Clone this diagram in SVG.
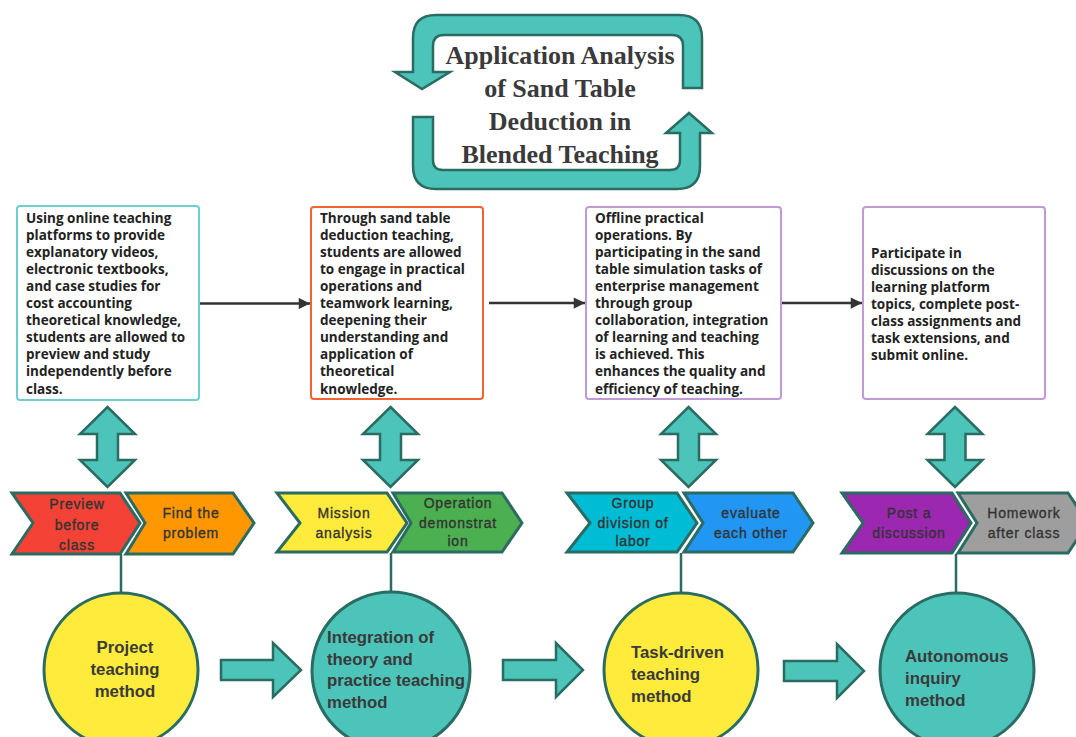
<svg xmlns="http://www.w3.org/2000/svg" width="1076" height="737" viewBox="0 0 1076 737">
<defs>
<style>
.title{font-family:"Liberation Serif","Times New Roman",serif;font-weight:bold;font-size:26px;fill:#3a3a3a;text-anchor:middle}
.box{fill:#fff;stroke-width:2}
.bt{font-family:"Open Sans","Noto Sans",sans-serif;font-weight:bold;font-size:13.5px;fill:#222}
.teal{fill:#4dc4b9;stroke:#2a6b62;stroke-width:2.5;stroke-linejoin:miter}
.chev{stroke:#2a6b62;stroke-width:3;stroke-linejoin:miter}
.ct{font-family:"Liberation Sans",Arial,sans-serif;font-size:14px;letter-spacing:0.8px;fill:#333;stroke:#333;stroke-width:0.35;text-anchor:middle}
.circ{stroke:#2a6b62;stroke-width:3}
.mt{font-family:"Liberation Sans",Arial,sans-serif;font-weight:bold;font-size:16.8px;fill:#3a3a3a}
.link{stroke:#2a6b62;stroke-width:2.5;fill:none}
.conn{stroke:#333;stroke-width:2.5;fill:none}
</style>
<marker id="ah" viewBox="0 0 10 10" refX="10" refY="5" markerWidth="5.5" markerHeight="4.5" orient="auto" markerUnits="strokeWidth">
<path d="M0,0 L10,5 L0,10 z" fill="#333"/>
</marker>
</defs>

<g id="title">
<path class="teal" d="M702,88 L702,38 Q702,15 679,15 L436,15 Q413,15 413,38 L413,72 L395,72 L422,89 L450,72 L433,72 L433,46 Q433,35 444,35 L672,35 Q683,35 683,46 L683,88 Z"/>
<path class="teal" d="M413,117 L413,166 Q413,189 436,189 L677,189 Q700,189 700,166 L700,133 L712,133 L689,113 L666,133 L680,133 L680,160 Q680,170 670,170 L443,170 Q433,170 433,160 L433,117 Z"/>
<text class="title" x="560" y="64">Application Analysis</text>
<text class="title" x="560" y="97">of Sand Table</text>
<text class="title" x="560" y="130">Deduction in</text>
<text class="title" x="560" y="163">Blended Teaching</text>
</g>

<g id="connectors">
<line class="conn" x1="200" y1="303.5" x2="310" y2="303.5" marker-end="url(#ah)"/>
<line class="conn" x1="489" y1="303" x2="585" y2="303" marker-end="url(#ah)"/>
<line class="conn" x1="782" y1="303" x2="862" y2="303" marker-end="url(#ah)"/>
<line class="link" x1="121" y1="554" x2="121" y2="592"/>
<line class="link" x1="391" y1="553" x2="391" y2="592"/>
<line class="link" x1="681" y1="553" x2="681" y2="592"/>
<line class="link" x1="956" y1="554" x2="956" y2="592"/>
<path class="teal" d="M221,660 L273,660 L273,643 L301,670 L273,697 L273,680 L221,680 Z"/>
<path class="teal" d="M503,660 L556,660 L556,643 L583,670 L556,697 L556,680 L503,680 Z"/>
<path class="teal" d="M784,661 L837,661 L837,644 L864,671 L837,698 L837,681 L784,681 Z"/>
</g>

<g id="box1">
<rect class="box" x="17" y="206" width="182" height="194" rx="3" stroke="#6dcfd1"/>
<text class="bt">
<tspan x="26" y="222.5">Using online teaching</tspan>
<tspan x="26" y="239.6">platforms to provide</tspan>
<tspan x="26" y="256.7">explanatory videos,</tspan>
<tspan x="26" y="273.8">electronic textbooks,</tspan>
<tspan x="26" y="290.9">and case studies for</tspan>
<tspan x="26" y="308">cost accounting</tspan>
<tspan x="26" y="325.1">theoretical knowledge,</tspan>
<tspan x="26" y="342.2">students are allowed to</tspan>
<tspan x="26" y="359.3">preview and study</tspan>
<tspan x="26" y="376.4">independently before</tspan>
<tspan x="26" y="393.5">class.</tspan>
</text>
</g>

<g id="box2">
<rect class="box" x="311" y="207" width="172" height="192" rx="3" stroke="#f4622f"/>
<text class="bt">
<tspan x="320" y="222.5">Through sand table</tspan>
<tspan x="320" y="239.6">deduction teaching,</tspan>
<tspan x="320" y="256.7">students are allowed</tspan>
<tspan x="320" y="273.8">to engage in practical</tspan>
<tspan x="320" y="290.9">operations and</tspan>
<tspan x="320" y="308">teamwork learning,</tspan>
<tspan x="320" y="325.1">deepening their</tspan>
<tspan x="320" y="342.2">understanding and</tspan>
<tspan x="320" y="359.3">application of</tspan>
<tspan x="320" y="376.4">theoretical</tspan>
<tspan x="320" y="393.5">knowledge.</tspan>
</text>
</g>

<g id="box3">
<rect class="box" x="586" y="207" width="195" height="192" rx="3" stroke="#c09ad8"/>
<text class="bt">
<tspan x="595" y="222.5">Offline practical</tspan>
<tspan x="595" y="239.6">operations. By</tspan>
<tspan x="595" y="256.7">participating in the sand</tspan>
<tspan x="595" y="273.8">table simulation tasks of</tspan>
<tspan x="595" y="290.9">enterprise management</tspan>
<tspan x="595" y="308">through group</tspan>
<tspan x="595" y="325.1">collaboration, integration</tspan>
<tspan x="595" y="342.2">of learning and teaching</tspan>
<tspan x="595" y="359.3">is achieved. This</tspan>
<tspan x="595" y="376.4">enhances the quality and</tspan>
<tspan x="595" y="393.5">efficiency of teaching.</tspan>
</text>
</g>

<g id="box4">
<rect class="box" x="863" y="207" width="182" height="192" rx="3" stroke="#c09ad8"/>
<text class="bt">
<tspan x="871" y="257.5">Participate in</tspan>
<tspan x="871" y="274.6">discussions on the</tspan>
<tspan x="871" y="291.7">learning platform</tspan>
<tspan x="871" y="308.8">topics, complete post-</tspan>
<tspan x="871" y="325.9">class assignments and</tspan>
<tspan x="871" y="343">task extensions, and</tspan>
<tspan x="871" y="360.1">submit online.</tspan>
</text>
</g>

<g id="dbl1"><path class="teal" d="M107.5,407 L135,434 L118,434 L118,460 L135,460 L107.5,487 L80,460 L97,460 L97,434 L80,434 Z"/></g>
<g id="dbl2"><path class="teal" d="M390.5,407 L418,434 L401,434 L401,460 L418,460 L390.5,487 L363,460 L380,460 L380,434 L363,434 Z"/></g>
<g id="dbl3"><path class="teal" d="M688.5,407 L716,434 L699,434 L699,460 L716,460 L688.5,487 L661,460 L678,460 L678,434 L661,434 Z"/></g>
<g id="dbl4"><path class="teal" d="M955,407 L982.5,434 L965.5,434 L965.5,460 L982.5,460 L955,487 L927.5,460 L944.5,460 L944.5,434 L927.5,434 Z"/></g>

<g id="chev-preview">
<path class="chev" fill="#f44336" d="M12,493 L120,493 L140,523 L120,554 L12,554 L33,523 Z"/>
<text class="ct"><tspan x="77" y="509">Preview</tspan><tspan x="77" y="530">before</tspan><tspan x="77" y="550">class</tspan></text>
</g>
<g id="chev-find">
<path class="chev" fill="#ff9800" d="M126,493 L233,493 L254,523 L233,554 L126,554 L145,523 Z"/>
<text class="ct"><tspan x="191" y="518">Find the</tspan><tspan x="191" y="538">problem</tspan></text>
</g>
<g id="chev-mission">
<path class="chev" fill="#ffeb3b" d="M277,493 L387,493 L407,523 L387,552 L277,552 L300,523 Z"/>
<text class="ct"><tspan x="344" y="518">Mission</tspan><tspan x="344" y="538">analysis</tspan></text>
</g>
<g id="chev-operation">
<path class="chev" fill="#4caf50" d="M393,493 L502,493 L522,523 L502,552 L393,552 L411,523 Z"/>
<text class="ct"><tspan x="458" y="508">Operation</tspan><tspan x="458" y="528">demonstrat</tspan><tspan x="458" y="546">ion</tspan></text>
</g>
<g id="chev-group">
<path class="chev" fill="#00bcd4" d="M567,493 L677,493 L697,523 L677,552 L567,552 L590,523 Z"/>
<text class="ct"><tspan x="633" y="508">Group</tspan><tspan x="633" y="528">division of</tspan><tspan x="633" y="546">labor</tspan></text>
</g>
<g id="chev-evaluate">
<path class="chev" fill="#2196f3" d="M684,493 L793,493 L813,523 L793,552 L684,552 L703,523 Z"/>
<text class="ct"><tspan x="751" y="518">evaluate</tspan><tspan x="751" y="538">each other</tspan></text>
</g>
<g id="chev-post">
<path class="chev" fill="#9c27b0" d="M842,493 L952,493 L971,523 L952,553 L842,553 L863,523 Z"/>
<text class="ct"><tspan x="909" y="518">Post a</tspan><tspan x="909" y="538">discussion</tspan></text>
</g>
<g id="chev-homework">
<path class="chev" fill="#9e9e9e" d="M958,493 L1068,493 L1088,523 L1068,553 L958,553 L977,523 Z"/>
<text class="ct"><tspan x="1024" y="518">Homework</tspan><tspan x="1024" y="538">after class</tspan></text>
</g>

<g id="m-project">
<circle class="circ" cx="121" cy="670" r="77" fill="#ffeb3b"/>
<text class="mt" text-anchor="middle"><tspan x="125" y="653">Project</tspan><tspan x="125" y="675">teaching</tspan><tspan x="125" y="697">method</tspan></text>
</g>
<g id="m-integration">
<circle class="circ" cx="391" cy="671" r="79" fill="#4dc4b9"/>
<text class="mt"><tspan x="327" y="643">Integration of</tspan><tspan x="327" y="664.5">theory and</tspan><tspan x="327" y="686">practice teaching</tspan><tspan x="327" y="707.5">method</tspan></text>
</g>
<g id="m-task">
<circle class="circ" cx="681" cy="670" r="77" fill="#ffeb3b"/>
<text class="mt"><tspan x="631" y="658">Task-driven</tspan><tspan x="631" y="680">teaching</tspan><tspan x="631" y="702">method</tspan></text>
</g>
<g id="m-autonomous">
<circle class="circ" cx="957" cy="670" r="77" fill="#4dc4b9"/>
<text class="mt"><tspan x="905" y="662">Autonomous</tspan><tspan x="905" y="684">inquiry</tspan><tspan x="905" y="706">method</tspan></text>
</g>
</svg>
